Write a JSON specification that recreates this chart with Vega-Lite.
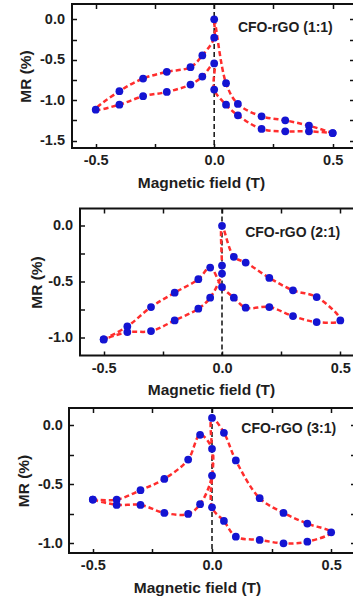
{
  "$schema": "https://vega.github.io/schema/vega-lite/v6.json",
  "padding": {"left": 14, "top": 2, "right": 0, "bottom": 0},
  "config": {
    "font": "Liberation Sans",
    "view": {"stroke": "#111111", "strokeWidth": 2},
    "axis": {"domain": false, "grid": false, "tickSize": -4.5, "tickWidth": 1.5, "tickColor": "#111111",
      "labelFont": "Liberation Sans", "labelFontSize": 14.5, "labelFontWeight": "bold", "labelColor": "#1e1e1e",
      "titleFont": "Liberation Sans", "titleFontSize": 15.5, "titleFontWeight": "bold", "titleColor": "#1e1e1e",
      "labelFlush": false, "labelOverlap": false, "labelBound": false}
  },
  "datasets": {
    "labels": [
      {"panel": "1", "label": "CFO-rGO (1:1)"},
      {"panel": "2", "label": "CFO-rGO (2:1)"},
      {"panel": "3", "label": "CFO-rGO (3:1)"}
    ],
    "p1": [
      {"step": 1, "B": 0.5, "MR": -1.405}, {"step": 2, "B": 0.4, "MR": -1.314}, {"step": 3, "B": 0.3, "MR": -1.248},
      {"step": 4, "B": 0.2, "MR": -1.198}, {"step": 5, "B": 0.1, "MR": -1.045}, {"step": 6, "B": 0.05, "MR": -0.789},
      {"step": 7, "B": 0, "MR": 0.0}, {"step": 8, "B": 0, "MR": -0.227}, {"step": 9, "B": -0.05, "MR": -0.446},
      {"step": 10, "B": -0.1, "MR": -0.591}, {"step": 11, "B": -0.2, "MR": -0.649}, {"step": 12, "B": -0.3, "MR": -0.731},
      {"step": 13, "B": -0.4, "MR": -0.888}, {"step": 14, "B": -0.5, "MR": -1.116}, {"step": 15, "B": -0.4, "MR": -1.054},
      {"step": 16, "B": -0.3, "MR": -0.95}, {"step": 17, "B": -0.2, "MR": -0.897}, {"step": 18, "B": -0.1, "MR": -0.806},
      {"step": 19, "B": -0.05, "MR": -0.707}, {"step": 20, "B": 0, "MR": -0.545}, {"step": 21, "B": 0, "MR": -0.868},
      {"step": 22, "B": 0.05, "MR": -1.054}, {"step": 23, "B": 0.1, "MR": -1.186}, {"step": 24, "B": 0.2, "MR": -1.355},
      {"step": 25, "B": 0.3, "MR": -1.384}, {"step": 26, "B": 0.4, "MR": -1.384}, {"step": 27, "B": 0.5, "MR": -1.405}
    ],
    "p2": [
      {"step": 1, "B": -0.5, "MR": -1.021}, {"step": 2, "B": -0.4, "MR": -0.904}, {"step": 3, "B": -0.3, "MR": -0.73},
      {"step": 4, "B": -0.2, "MR": -0.601}, {"step": 5, "B": -0.1, "MR": -0.48}, {"step": 6, "B": -0.05, "MR": -0.375},
      {"step": 7, "B": 0, "MR": -0.55}, {"step": 8, "B": 0.05, "MR": -0.646}, {"step": 9, "B": 0.1, "MR": -0.736},
      {"step": 10, "B": 0.2, "MR": -0.73}, {"step": 11, "B": 0.3, "MR": -0.811}, {"step": 12, "B": 0.4, "MR": -0.865},
      {"step": 13, "B": 0.5, "MR": -0.85}, {"step": 14, "B": 0.4, "MR": -0.64}, {"step": 15, "B": 0.3, "MR": -0.58},
      {"step": 16, "B": 0.2, "MR": -0.468}, {"step": 17, "B": 0.1, "MR": -0.33}, {"step": 18, "B": 0.05, "MR": -0.279},
      {"step": 19, "B": 0, "MR": 0.0}, {"step": 20, "B": 0, "MR": -0.357}, {"step": 21, "B": 0, "MR": -0.429},
      {"step": 22, "B": -0.05, "MR": -0.646}, {"step": 23, "B": -0.1, "MR": -0.745}, {"step": 24, "B": -0.2, "MR": -0.85},
      {"step": 25, "B": -0.3, "MR": -0.946}, {"step": 26, "B": -0.4, "MR": -0.955}, {"step": 27, "B": -0.5, "MR": -1.021}
    ],
    "p3": [
      {"step": 1, "B": -0.5, "MR": -0.631}, {"step": 2, "B": -0.4, "MR": -0.631}, {"step": 3, "B": -0.3, "MR": -0.551},
      {"step": 4, "B": -0.2, "MR": -0.455}, {"step": 5, "B": -0.1, "MR": -0.29}, {"step": 6, "B": -0.05, "MR": -0.08},
      {"step": 7, "B": 0, "MR": -0.199}, {"step": 8, "B": 0, "MR": -0.696}, {"step": 9, "B": 0.05, "MR": -0.8125},
      {"step": 10, "B": 0.1, "MR": -0.946}, {"step": 11, "B": 0.2, "MR": -0.974}, {"step": 12, "B": 0.3, "MR": -1.003},
      {"step": 13, "B": 0.4, "MR": -0.989}, {"step": 14, "B": 0.5, "MR": -0.909}, {"step": 15, "B": 0.4, "MR": -0.835},
      {"step": 16, "B": 0.3, "MR": -0.744}, {"step": 17, "B": 0.2, "MR": -0.619}, {"step": 18, "B": 0.1, "MR": -0.298},
      {"step": 19, "B": 0.05, "MR": -0.0625}, {"step": 20, "B": 0, "MR": 0.063}, {"step": 21, "B": 0, "MR": -0.426},
      {"step": 22, "B": -0.05, "MR": -0.67}, {"step": 23, "B": -0.1, "MR": -0.753}, {"step": 24, "B": -0.2, "MR": -0.744},
      {"step": 25, "B": -0.3, "MR": -0.676}, {"step": 26, "B": -0.4, "MR": -0.676}, {"step": 27, "B": -0.5, "MR": -0.631}
    ]
  },
  "spacing": 7,
  "vconcat": [
    {
      "spacing": 14.5,
      "vconcat": [
        {
          "spacing": 0,
          "hconcat": [
            {"data": {"values": []}, "mark": "point", "width": 3, "height": 1, "view": {"stroke": null}},
            {
              "width": 282, "height": 144,
              "resolve": {"axis": {"x": "independent", "y": "independent"}},
              "layer": [
                {"data": {"name": "labels"}, "transform": [{"filter": "datum.panel == '1'"}],
                  "mark": {"type": "rule", "color": "#111111", "strokeDash": [5, 3], "strokeWidth": 1.5},
                  "encoding": {"x": {"datum": 0, "type": "quantitative", "scale": {"domain": [-0.6, 0.59], "nice": false, "zero": false},
                    "axis": {"orient": "top", "values": [-0.5, -0.25, 0, 0.25, 0.5], "labels": false, "title": null}}}},
                {"data": {"name": "p1"},
                  "mark": {"type": "line", "interpolate": "catmull-rom", "color": "#ff2d2d", "strokeDash": [5, 3], "strokeWidth": 2.5},
                  "encoding": {
                    "x": {"field": "B", "type": "quantitative", "scale": {"domain": [-0.6, 0.59], "nice": false, "zero": false},
                      "axis": {"orient": "bottom", "values": [-0.5, -0.25, 0, 0.25, 0.5], "labelPadding": 10, "titlePadding": 8, "titleX": 129,
                        "labelExpr": "replace(abs(datum.value*2-round(datum.value*2))<0.001 ? format(datum.value,'.1f') : '', '−', '-')",
                        "title": "Magnetic field (T)"}},
                    "y": {"field": "MR", "type": "quantitative", "scale": {"domain": [-1.59, 0.19], "nice": false, "zero": false},
                      "axis": {"orient": "left", "values": [0, -0.25, -0.5, -0.75, -1, -1.25, -1.5], "labelPadding": 12, "titlePadding": 5.8,
                        "labelExpr": "replace(abs(datum.value*2-round(datum.value*2))<0.001 ? format(datum.value,'.1f') : '', '−', '-')",
                        "title": "MR (%)"}},
                    "order": {"field": "step", "type": "quantitative"}}},
                {"data": {"name": "p1"},
                  "mark": {"type": "circle", "color": "#1414d2", "size": 60, "opacity": 1},
                  "encoding": {
                    "x": {"field": "B", "type": "quantitative", "scale": {"domain": [-0.6, 0.59], "nice": false, "zero": false}, "axis": null},
                    "y": {"field": "MR", "type": "quantitative", "scale": {"domain": [-1.59, 0.19], "nice": false, "zero": false}, "axis": null}}},
                {"data": {"name": "labels"}, "transform": [{"filter": "datum.panel == '1'"}],
                  "mark": {"type": "text", "align": "left", "baseline": "middle", "font": "Liberation Sans", "fontSize": 14, "fontWeight": "bold", "color": "#1e1e1e"},
                  "encoding": {
                    "x": {"datum": 0.1, "type": "quantitative", "scale": {"domain": [-0.6, 0.59], "nice": false, "zero": false}, "axis": null},
                    "y": {"datum": -0.104, "type": "quantitative", "scale": {"domain": [-1.59, 0.19], "nice": false, "zero": false},
                      "axis": {"orient": "right", "values": [0, -0.25, -0.5, -0.75, -1, -1.25, -1.5], "labels": false, "title": null}},
                    "text": {"field": "label"}}}
              ]
            }
          ]
        },
        {
          "spacing": 0,
          "hconcat": [
            {"data": {"values": []}, "mark": "point", "width": 14, "height": 1, "view": {"stroke": null}},
            {
              "width": 284, "height": 147,
              "resolve": {"axis": {"x": "independent", "y": "independent"}},
              "layer": [
                {"data": {"name": "labels"}, "transform": [{"filter": "datum.panel == '2'"}],
                  "mark": {"type": "rule", "color": "#111111", "strokeDash": [5, 3], "strokeWidth": 1.5},
                  "encoding": {"x": {"datum": 0, "type": "quantitative", "scale": {"domain": [-0.6, 0.6], "nice": false, "zero": false},
                    "axis": {"orient": "top", "values": [-0.5, -0.25, 0, 0.25, 0.5], "labels": false, "title": null}}}},
                {"data": {"name": "p2"},
                  "mark": {"type": "line", "interpolate": "catmull-rom", "color": "#ff2d2d", "strokeDash": [5, 3], "strokeWidth": 2.5},
                  "encoding": {
                    "x": {"field": "B", "type": "quantitative", "scale": {"domain": [-0.6, 0.6], "nice": false, "zero": false},
                      "axis": {"orient": "bottom", "values": [-0.5, -0.25, 0, 0.25, 0.5], "labelPadding": 10, "titlePadding": 8, "titleX": 131,
                        "labelExpr": "replace(abs(datum.value*2-round(datum.value*2))<0.001 ? format(datum.value,'.1f') : '', '−', '-')",
                        "title": "Magnetic field (T)"}},
                    "y": {"field": "MR", "type": "quantitative", "scale": {"domain": [-1.165, 0.155], "nice": false, "zero": false},
                      "axis": {"orient": "left", "values": [0, -0.25, -0.5, -0.75, -1], "labelPadding": 11.8, "titlePadding": 3.2,
                        "labelExpr": "replace(abs(datum.value*2-round(datum.value*2))<0.001 ? format(datum.value,'.1f') : '', '−', '-')",
                        "title": "MR (%)"}},
                    "order": {"field": "step", "type": "quantitative"}}},
                {"data": {"name": "p2"},
                  "mark": {"type": "circle", "color": "#1414d2", "size": 60, "opacity": 1},
                  "encoding": {
                    "x": {"field": "B", "type": "quantitative", "scale": {"domain": [-0.6, 0.6], "nice": false, "zero": false}, "axis": null},
                    "y": {"field": "MR", "type": "quantitative", "scale": {"domain": [-1.165, 0.155], "nice": false, "zero": false}, "axis": null}}},
                {"data": {"name": "labels"}, "transform": [{"filter": "datum.panel == '2'"}],
                  "mark": {"type": "text", "align": "left", "baseline": "middle", "font": "Liberation Sans", "fontSize": 14, "fontWeight": "bold", "color": "#1e1e1e"},
                  "encoding": {
                    "x": {"datum": 0.098, "type": "quantitative", "scale": {"domain": [-0.6, 0.6], "nice": false, "zero": false}, "axis": null},
                    "y": {"datum": -0.063, "type": "quantitative", "scale": {"domain": [-1.165, 0.155], "nice": false, "zero": false},
                      "axis": {"orient": "right", "values": [0, -0.25, -0.5, -0.75, -1], "labels": false, "title": null}},
                    "text": {"field": "label"}}}
              ]
            }
          ]
        }
      ]
    },
    {
      "spacing": 0,
      "hconcat": [
        {"data": {"values": []}, "mark": "point", "width": 1, "height": 1, "view": {"stroke": null}},
        {
          "width": 286, "height": 145,
          "resolve": {"axis": {"x": "independent", "y": "independent"}},
          "layer": [
            {"data": {"name": "labels"}, "transform": [{"filter": "datum.panel == '3'"}],
              "mark": {"type": "rule", "color": "#111111", "strokeDash": [5, 3], "strokeWidth": 1.5},
              "encoding": {"x": {"datum": 0, "type": "quantitative", "scale": {"domain": [-0.6, 0.6], "nice": false, "zero": false},
                "axis": {"orient": "top", "values": [-0.5, -0.25, 0, 0.25, 0.5], "labels": false, "title": null}}}},
            {"data": {"name": "p3"},
              "mark": {"type": "line", "interpolate": "catmull-rom", "color": "#ff2d2d", "strokeDash": [5, 3], "strokeWidth": 2.5},
              "encoding": {
                "x": {"field": "B", "type": "quantitative", "scale": {"domain": [-0.6, 0.6], "nice": false, "zero": false},
                  "axis": {"orient": "bottom", "values": [-0.5, -0.25, 0, 0.25, 0.5], "labelPadding": 10, "titlePadding": 8, "titleX": 128,
                    "labelExpr": "replace(abs(datum.value*2-round(datum.value*2))<0.001 ? format(datum.value,'.1f') : '', '−', '-')",
                    "title": "Magnetic field (T)"}},
                "y": {"field": "MR", "type": "quantitative", "scale": {"domain": [-1.085, 0.148], "nice": false, "zero": false},
                  "axis": {"orient": "left", "values": [0, -0.25, -0.5, -0.75, -1], "labelPadding": 11.1, "titlePadding": 5.7,
                    "labelExpr": "replace(abs(datum.value*2-round(datum.value*2))<0.001 ? format(datum.value,'.1f') : '', '−', '-')",
                    "title": "MR (%)"}},
                "order": {"field": "step", "type": "quantitative"}}},
            {"data": {"name": "p3"},
              "mark": {"type": "circle", "color": "#1414d2", "size": 60, "opacity": 1},
              "encoding": {
                "x": {"field": "B", "type": "quantitative", "scale": {"domain": [-0.6, 0.6], "nice": false, "zero": false}, "axis": null},
                "y": {"field": "MR", "type": "quantitative", "scale": {"domain": [-1.085, 0.148], "nice": false, "zero": false}, "axis": null}}},
            {"data": {"name": "labels"}, "transform": [{"filter": "datum.panel == '3'"}],
              "mark": {"type": "text", "align": "left", "baseline": "middle", "font": "Liberation Sans", "fontSize": 14, "fontWeight": "bold", "color": "#1e1e1e"},
              "encoding": {
                "x": {"datum": 0.123, "type": "quantitative", "scale": {"domain": [-0.6, 0.6], "nice": false, "zero": false}, "axis": null},
                "y": {"datum": -0.028, "type": "quantitative", "scale": {"domain": [-1.085, 0.148], "nice": false, "zero": false},
                  "axis": {"orient": "right", "values": [0, -0.25, -0.5, -0.75, -1], "labels": false, "title": null}},
                "text": {"field": "label"}}}
          ]
        }
      ]
    }
  ]
}
